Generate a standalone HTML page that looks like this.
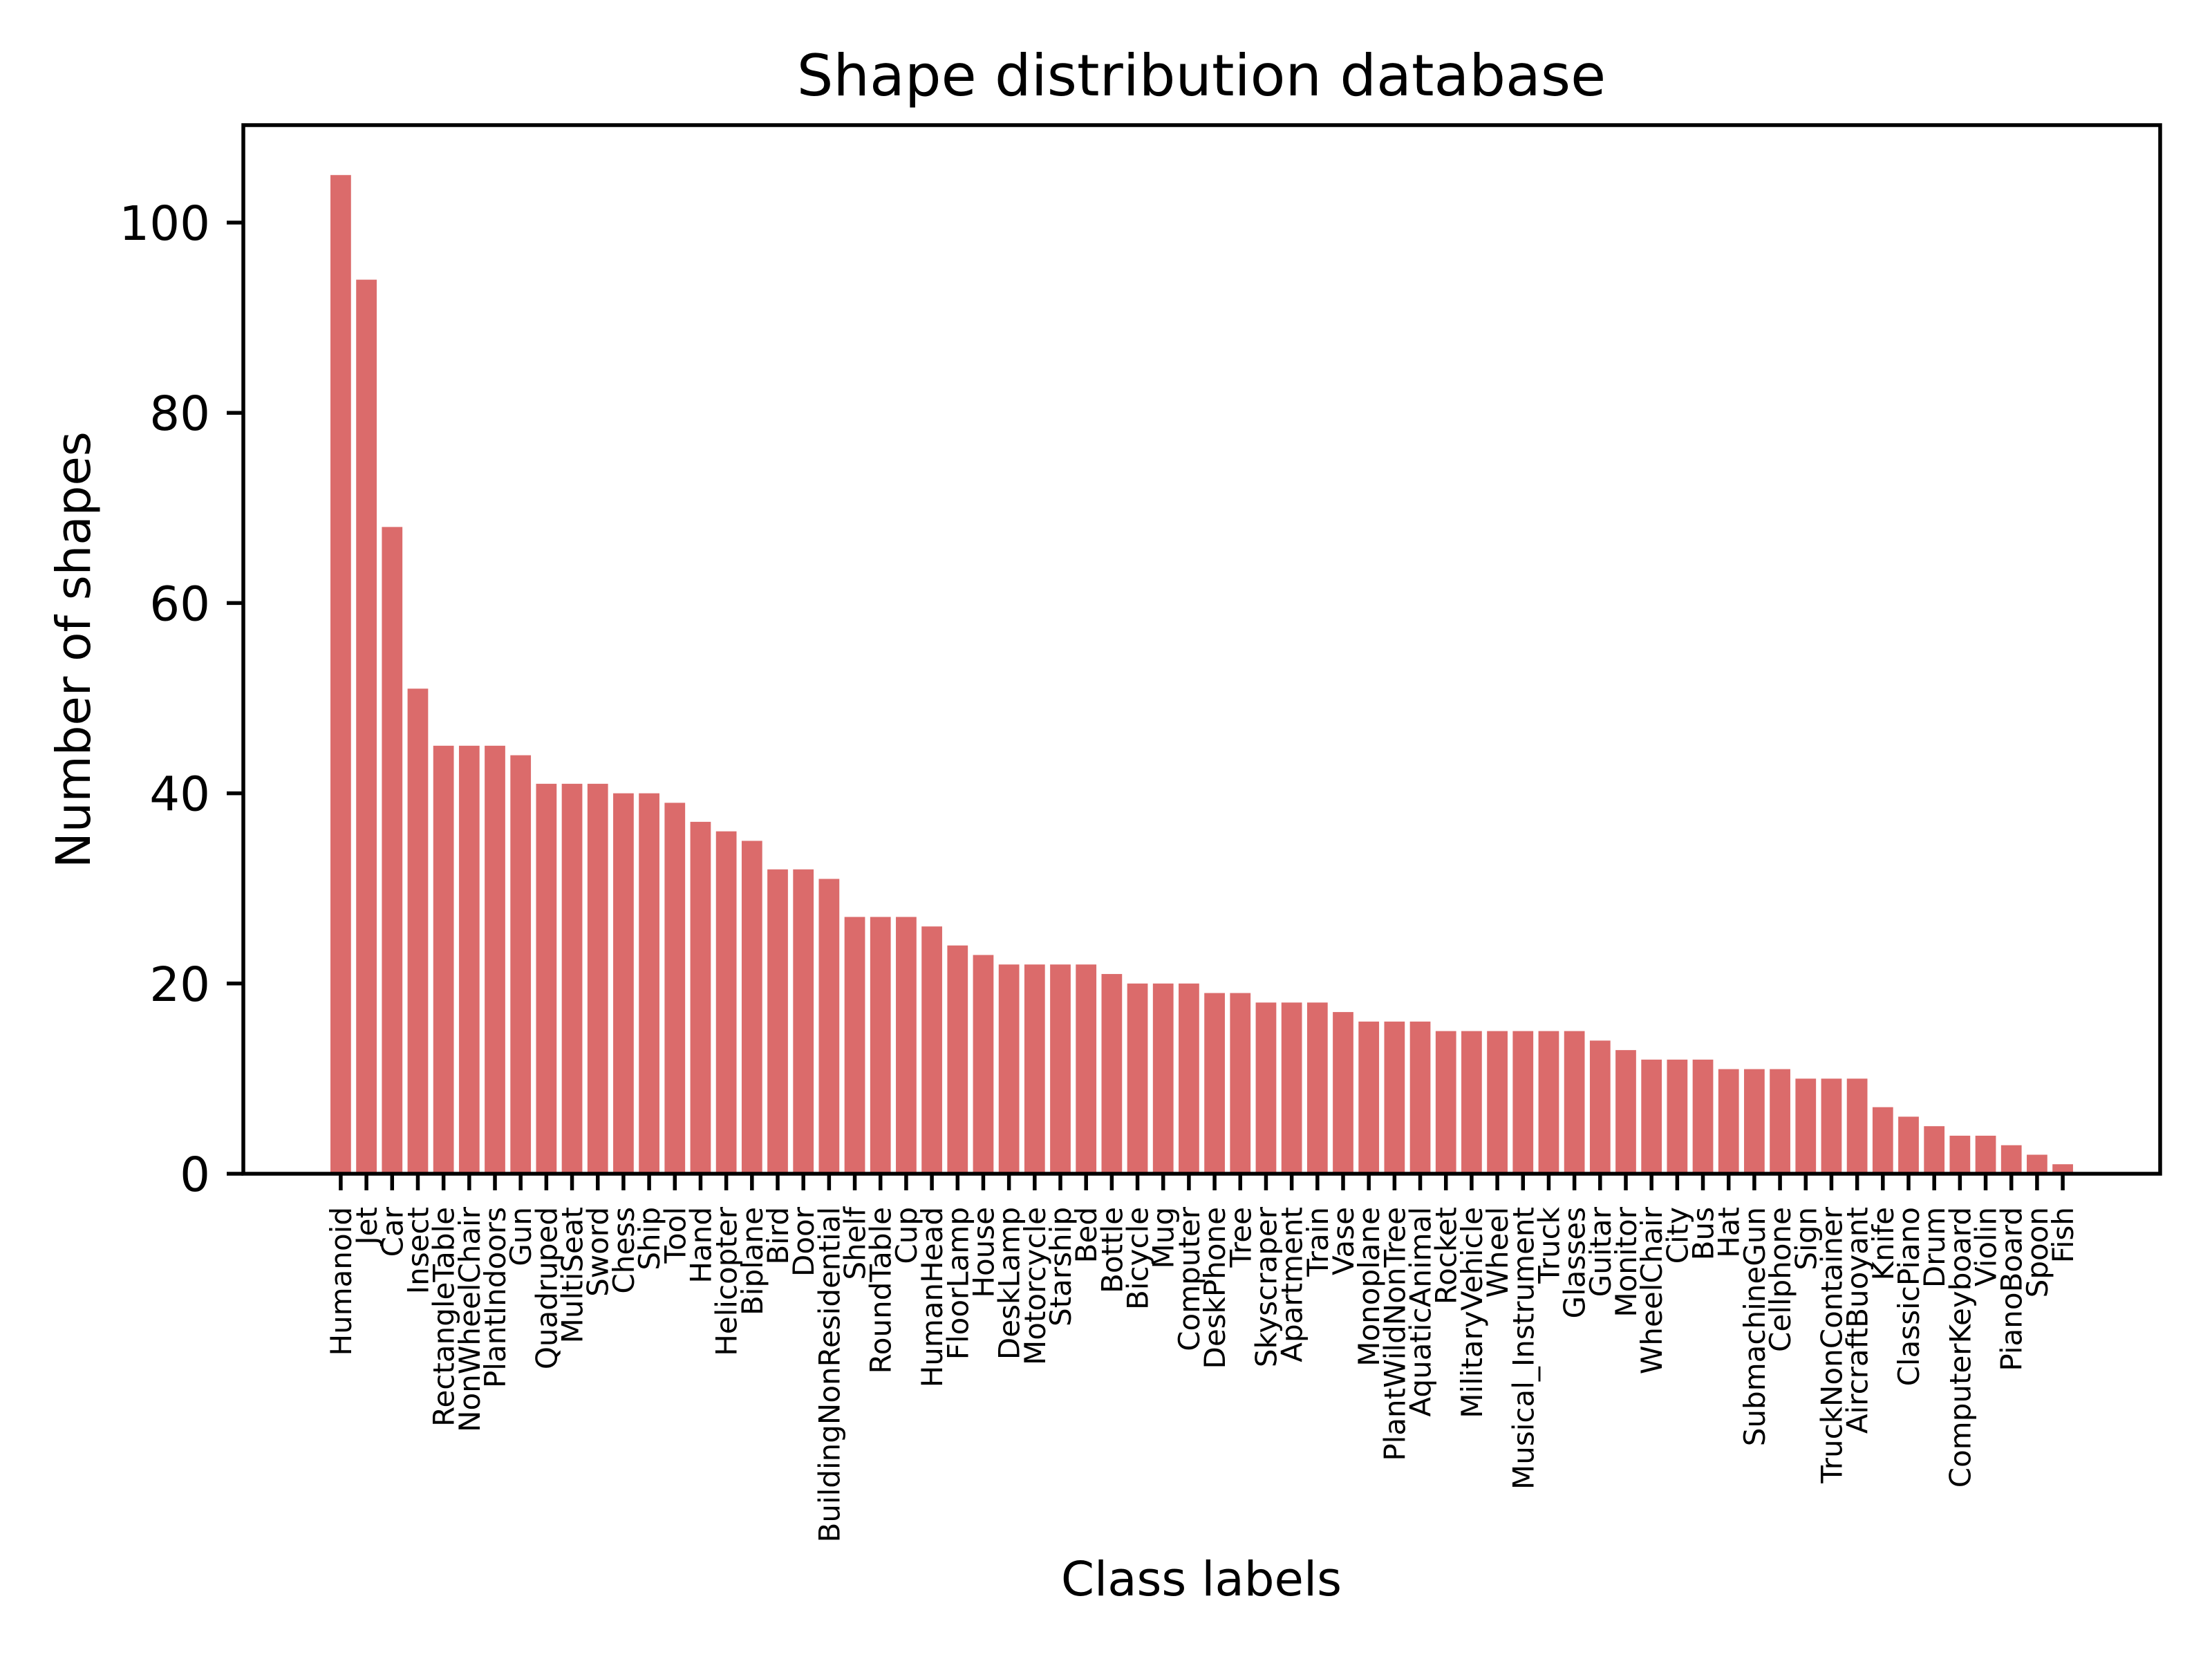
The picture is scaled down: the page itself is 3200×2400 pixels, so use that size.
<!DOCTYPE html>
<html><head><meta charset="utf-8"><style>
html,body{margin:0;padding:0;background:#fff}
svg{display:block}
text{font-family:"DejaVu Sans","Liberation Sans",sans-serif;fill:#000}
</style></head><body>
<svg id="chart" width="3200" height="2400" viewBox="0 0 3200 2400" xmlns="http://www.w3.org/2000/svg">
<rect x="0" y="0" width="3200" height="2400" fill="#fff"/>
<g id="bars"></g>
<g id="xticks"></g>
<g id="yticks"></g>
<rect x="352" y="181" width="2773" height="1517" fill="none" stroke="#000" stroke-width="5.5"/>
<text x="1738" y="138" font-size="83" text-anchor="middle">Shape distribution database</text>
<text x="1738" y="2308" font-size="69" text-anchor="middle">Class labels</text>
<text transform="translate(130,940) rotate(-90)" font-size="69" text-anchor="middle">Number of shapes</text>
</svg>
<script>
const categories = ["Humanoid","Jet","Car","Insect","RectangleTable","NonWheelChair","PlantIndoors","Gun","Quadruped","MultiSeat","Sword","Chess","Ship","Tool","Hand","Helicopter","Biplane","Bird","Door","BuildingNonResidential","Shelf","RoundTable","Cup","HumanHead","FloorLamp","House","DeskLamp","Motorcycle","Starship","Bed","Bottle","Bicycle","Mug","Computer","DeskPhone","Tree","Skyscraper","Apartment","Train","Vase","Monoplane","PlantWildNonTree","AquaticAnimal","Rocket","MilitaryVehicle","Wheel","Musical_Instrument","Truck","Glasses","Guitar","Monitor","WheelChair","City","Bus","Hat","SubmachineGun","Cellphone","Sign","TruckNonContainer","AircraftBuoyant","Knife","ClassicPiano","Drum","ComputerKeyboard","Violin","PianoBoard","Spoon","Fish"];
const counts = [105,94,68,51,45,45,45,44,41,41,41,40,40,39,37,36,35,32,32,31,27,27,27,26,24,23,22,22,22,22,21,20,20,20,19,19,18,18,18,17,16,16,16,15,15,15,15,15,15,14,13,12,12,12,11,11,11,10,10,10,7,6,5,4,4,3,2,1];
const yTickValues = [0,20,40,60,80,100];
const yTickLabels = ["0","20","40","60","80","100"];

const NS = "http://www.w3.org/2000/svg";
const AX = {left:352, right:3125, top:181, bottom:1698};
const n = categories.length;
const maxV = Math.max(...counts);
const xMin = -0.4 - 0.05*(n-1+0.8), xMax = (n-1)+0.4 + 0.05*(n-1+0.8);
const yMax = maxV*1.05;
function xScale(v){ return AX.left + (v - xMin)/(xMax - xMin)*(AX.right-AX.left); }
function yScale(v){ return AX.bottom - v/yMax*(AX.bottom-AX.top); }
function mk(tag, attrs){ const e=document.createElementNS(NS,tag); for(const k in attrs) e.setAttribute(k, attrs[k]); return e; }

const gb = document.getElementById('bars');
const gx = document.getElementById('xticks');
const gy = document.getElementById('yticks');
counts.forEach((c,i)=>{
  const x0 = xScale(i-0.4), x1 = xScale(i+0.4);
  const r = mk('rect',{x:x0, y:yScale(c), width:x1-x0, height:yScale(0)-yScale(c), fill:'#db6b6b'});
  
  
  gb.appendChild(r);
  const cx = xScale(i);
  const t = mk('line',{x1:cx, x2:cx, y1:AX.bottom, y2:AX.bottom+24, stroke:'#000', 'stroke-width':5.5});
  
  
  gx.appendChild(t);
  const lab = mk('text',{transform:'translate('+(cx+15)+','+(AX.bottom+48)+') rotate(-90)', 'font-size':42, 'text-anchor':'end'});
  lab.textContent = categories[i];
  
  
  gx.appendChild(lab);
});
yTickValues.forEach((v,i)=>{
  const y = yScale(v);
  const t = mk('line',{x1:AX.left-24, x2:AX.left, y1:y, y2:y, stroke:'#000', 'stroke-width':5.5});
  
  
  gy.appendChild(t);
  const lab = mk('text',{x:AX.left-48, y:y+25, 'font-size':69, 'text-anchor':'end'});
  lab.textContent = yTickLabels[i];
  
  
  gy.appendChild(lab);
});
</script>
</body></html>
